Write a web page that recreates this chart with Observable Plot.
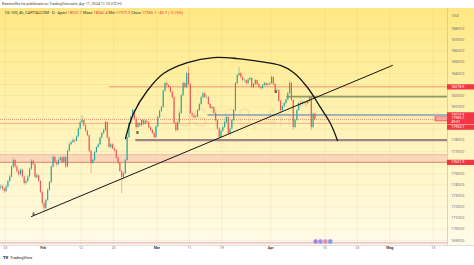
<!DOCTYPE html>
<html>
<head>
<meta charset="utf-8">
<script src="https://cdn.jsdelivr.net/npm/d3@7"></script>
<script src="https://cdn.jsdelivr.net/npm/@observablehq/plot@0.6"></script>
<style>
  body { margin: 0; background: #fff; }
  #wrap { position: relative; width: 474px; height: 265px; overflow: hidden; font-family: Roboto, "DejaVu Sans", sans-serif; }
  #chart { position: absolute; left: 0; top: 0; }
  .pub { position: absolute; left: 2px; top: 1.6px; font-size: 3.7px; line-height: 4px; color: #444; white-space: nowrap; }
  .legend { position: absolute; left: 5px; top: 11.4px; font-size: 3.9px; line-height: 4px; color: #333; white-space: nowrap; }
  .legend .v { color: #f23645; }
  .logo { position: absolute; left: 3px; top: 255px; font-size: 4px; line-height: 5px; color: #131722; white-space: nowrap; }
  .logo b { font-weight: 900; margin-right: 1px; }
</style>
</head>
<body>
<div id="wrap">
  <div id="chart"></div>
  <div class="pub">Kasimoflex ha pubblicato su TradingView.com, Apr 11, 2024 11:10 UTC+2</div>
  <div class="legend">US 100, 4h, CAPITALCOM · D · Apert <span class="v">18032.7</span> Mass <span class="v">18042.4</span> Min <span class="v">17979.9</span> Chius <span class="v">17985.1</span> <span class="v">−45.7 (−0.25%)</span></div>
  <div class="logo"><b>TV</b> TradingView</div>
</div>
<script>
// US 100 CFD candles, three per trading session, each [high, low, close].
// Each candle opens where the previous one closed.
const firstOpen = 17370;
const janBars = [
  [17400,17350,17380],[17395,17345,17360],[17370,17320,17340],
  [17395,17330,17380],[17440,17370,17430],[17490,17420,17470],
  [17570,17460,17560],[17640,17545,17618],[17625,17545,17560],
  [17575,17505,17520],[17535,17470,17490],[17545,17480,17530],
  [17540,17460,17470],[17480,17395,17411],[17445,17400,17430],
  [17485,17420,17470],[17550,17460,17540],[17625,17530,17610],
  [17620,17570,17580],[17590,17455,17465],[17500,17450,17480],
  [17490,17420,17430],[17440,17320,17330],[17345,17210,17230]
];
const febBars = [
  [17245,17160,17190],[17270,17175,17260],[17365,17250,17350],
  [17430,17340,17420],[17570,17410,17560],[17660,17550,17645],
  [17655,17590,17600],[17615,17560,17580],[17630,17570,17620],
  [17655,17610,17640],[17650,17590,17600],[17655,17590,17645],
  [17650,17545,17560],[17710,17550,17700],[17775,17690,17760],
  [17790,17750,17780],[17815,17770,17797],[17805,17770,17790],
  [17840,17785,17830],[17910,17820,17900],[17970,17890,17960],
  [18020,17950,17976],[17985,17920,17930],[17940,17870,17880],
  [17890,17830,17841],[17850,17690,17700],[17710,17500,17590],
  [17630,17580,17620],[17700,17610,17690],[17745,17680,17735],
  [17770,17725,17760],[17830,17750,17820],[17870,17810,17860],
  [17900,17850,17886],[17970,17875,17958],[17965,17810,17820],
  [17830,17725,17735],[17770,17720,17760],[17770,17710,17720],
  [17730,17690,17708],[17715,17630,17640],[17650,17580,17590],
  [17600,17510,17520],[17530,17320,17465],[17510,17450,17500],
  [17630,17490,17618],[17835,17610,17824],[17960,17815,17950],
  [18020,17940,18003],[18080,17995,18066],[18075,17980,17990],
  [18000,17900,17913],[17960,17905,17950],[17955,17915,17930],
  [17985,17920,17976],[17985,17930,17940],[17980,17935,17970],
  [17975,17945,17958],[17965,17900,17910],[17920,17875,17886],
  [17895,17850,17860],[17870,17810,17824],[17930,17815,17920]
];
const marBars = [
  [18015,17910,18003],[18070,17995,18060],[18105,18050,18093],
  [18250,18085,18240],[18320,18230,18308],[18315,18270,18290],
  [18295,18260,18272],[18280,18220,18230],[18240,18170,18183],
  [18190,17940,17949],[17960,17870,17886],[17970,17880,17960],
  [18050,17950,18039],[18210,18030,18200],[18320,18190,18308],
  [18315,18260,18272],[18410,18265,18398],[18460,18290,18300],
  [18310,18030,18039],[18050,18000,18020],[18035,17990,18003],
  [18025,17985,18010],[18075,18000,18066],[18130,18055,18120],
  [18190,18110,18180],[18235,18170,18218],[18225,18175,18183],
  [18200,18170,18183],[18190,18110,18120],[18130,18075,18084],
  [18105,18070,18093],[18100,18030,18040],[18050,17965,17976],
  [17985,17890,17900],[17915,17810,17824],[17890,17815,17880],
  [17925,17870,17913],[17970,17905,17960],[18015,17950,18003],
  [18010,17850,17859],[17910,17845,17900],[17985,17890,17976],
  [18075,17965,18066],[18320,18055,18308],[18390,18300,18380],
  [18455,18370,18398],[18405,18350,18360],[18370,18320,18335],
  [18350,18320,18335],[18340,18295,18310],[18350,18300,18340],
  [18365,18330,18353],[18360,18265,18272],[18310,18260,18300],
  [18345,18290,18335],[18340,18290,18300],[18310,18260,18272],
  [18280,18250,18263],[18300,18255,18290],[18320,18280,18308],
  [18315,18280,18290],[18310,18285,18300],[18320,18290,18310]
];
const aprBars = [
  [18375,18300,18362],[18370,18290,18300],[18310,18235,18245],
  [18260,18230,18246],[18250,18140,18150],[18160,18050,18066],
  [18110,18060,18100],[18140,18090,18129],[18170,18120,18160],
  [18230,18150,18219],[18330,18210,18308],[18320,18150,18156],
  [18165,17886,17913],[17990,17905,17980],[18075,17970,18066],
  [18140,18060,18129],[18145,18100,18120],[18150,18110,18140],
  [18150,18120,18138],[18145,18100,18129],[18160,18120,18150],
  [18195,18140,18183],[18190,17886,17913],[18045,17905,18032.7],
  [18042.4,17979.9,17985.1]
];

// Session index 0 = Jan 23; the series starts with the Jan 22 session.
const firstSession = -1;
const perSession = 3;

// Time axis: session index of each tick and its label
const sessionTicks  = [0, 7, 14, 20, 28, 34, 40, 49, 59, 65, 71, 79];
const sessionLabels = ["23", "Feb", "12", "20", "Mar", "11", "19", "Apr", "15", "23", "Mag", "13"];
const monthNames = ["Feb", "Mar", "Apr", "Mag"];

// Price axis ticks
const priceTicks = [16900, 17000, 17100, 17200, 17300, 17400, 17500, 17600, 17700, 17800,
                    17900, 18000, 18100, 18200, 18300, 18400, 18500, 18600, 18700, 18800];
const currency = "USD";

// Horizontal levels drawn on the chart and the session where each begins
const resistance = 18278.9, resistanceFrom = 19.2;
const upperBand = 18192, upperBandFrom = 52;
const pivot = 18026.8, pivotFrom = 37.4;
const minorLevel = 17950.7, minorLevelFrom = -1;
const support = 17800, supportFrom = 24.1;
const demandLow = 17601.9, demandHigh = 17670;
const floorLine = 16878;

// Rising trend line (session, price)
const trendSessions = [4.85, 71.48];
const trendPrices = [17115, 18471];

// Rounded top drawn over the range
const arcSessions = [22.2, 23.68, 26.26, 29.22, 33.65, 38.45, 42.87, 47.12, 50.81, 53.21, 55.8, 58.19, 60.04, 61.33];
const arcPrices = [17815, 18040, 18246, 18399, 18497, 18542, 18533, 18506, 18471, 18408, 18273, 18094, 17950, 17797];

// Point labels placed on the chart
const pointLabels = ["A", "B", "B"];
const pointSessions = [5.2, 24.4, 49.9];
const pointPrices = [17142, 17869, 18237];

// Upcoming-event markers along the time axis
const eventSessions = [57.3, 58.2, 59.1, 60.0];
const eventColors = ["#9b6fd8", "#8a7fe0", "#e27aa8", "#6f8ee0"];

// Price tags on the scale
const tagPrices = [18278.9, 18026.8, 17601.9];
const lastTag = 17985.1, lastCountdown = "49:01";
const lowerTag = 17950.7;

// Watermark
const watermark = "US100, 4h";
const watermarkSub = "US 100";

const bars = [...janBars, ...febBars, ...marBars, ...aprBars];
const candles = bars.map(([high, low, close], i) => ({
  t: firstSession + (i + 0.5) / perSession,
  open: i === 0 ? firstOpen : bars[i - 1][2],
  high, low, close
}));
const lastClose = bars[bars.length - 1][2];

const up = "#26a69a", down = "#ef5350";
const xDomain = [-0.87, 81.64];
const yDomain = [16855, 18982];
const xEnd = xDomain[1];
const past = xEnd + 6;
const fmt = d3.format(".1f");
const axisInk = "#6a6d78";
const tagFont = 3.6;
const lowerTagShift = 3.8;   // px the lower tag is pushed down to clear the last-price tag
const pxPerPoint = 237 / (yDomain[1] - yDomain[0]);

// scale labels that sit under a tag are not shown
const tagShown = [...tagPrices, lastTag, lowerTag - lowerTagShift / pxPerPoint];
const visibleTicks = priceTicks.filter(p => tagShown.every(t => Math.abs(t - p) * pxPerPoint > 4.2));

const trend = trendSessions.map((t, i) => ({t, p: trendPrices[i]}));
const arc = arcSessions.map((t, i) => ({t, p: arcPrices[i]}));
const points = pointLabels.map((label, i) => ({label, t: pointSessions[i], p: pointPrices[i]}));
const events = eventSessions.map((t, i) => ({t, color: eventColors[i]}));
const colorOf = d => d.close >= d.open ? up : down;

const chart = Plot.plot({
  width: 474,
  height: 265,
  marginLeft: 0,
  marginRight: 27,
  marginTop: 8,
  marginBottom: 20,
  x: {domain: xDomain, axis: null},
  y: {domain: yDomain, axis: null},
  style: {fontFamily: "Roboto, 'DejaVu Sans', sans-serif", fontSize: "4px", overflow: "hidden"},
  marks: [
    // faint grid
    Plot.ruleX(sessionTicks, {x: d => d, stroke: "#c8b870", strokeOpacity: 0.3, strokeWidth: 0.5}),
    Plot.ruleY(priceTicks, {y: d => d, x1: xDomain[0], x2: xEnd, stroke: "#c8b870", strokeOpacity: 0.3, strokeWidth: 0.5}),

    // watermark
    Plot.text([watermark], {frameAnchor: "middle", dx: 10, dy: -8, text: d => d, fontSize: 26, fill: "#8a7d40", fillOpacity: 0.09}),
    Plot.text([watermarkSub], {frameAnchor: "middle", dx: 8, dy: 17, text: d => d, fontSize: 11, fill: "#8a7d40", fillOpacity: 0.09}),

    // demand zone
    Plot.rect([demandLow], {x1: xDomain[0], x2: xEnd, y1: demandLow, y2: demandHigh, fill: "#f4b9b0", fillOpacity: 0.5}),
    Plot.ruleY([demandHigh], {x1: xDomain[0], x2: xEnd, stroke: "#eaa39a", strokeWidth: 0.5}),
    Plot.ruleY([demandLow], {x1: xDomain[0], x2: xEnd, stroke: "#de6f6a", strokeWidth: 0.9}),
    Plot.ruleY([floorLine], {x1: xDomain[0], x2: xEnd, stroke: "#e7a0c0", strokeWidth: 1}),

    // levels
    Plot.ruleY([resistance], {x1: resistanceFrom, x2: xEnd, stroke: "#f07a72", strokeWidth: 0.8}),
    Plot.ruleY([upperBand], {x1: upperBandFrom, x2: xEnd, stroke: "#8f9a6c", strokeWidth: 1.8}),
    Plot.ruleY([pivot], {x1: pivotFrom, x2: xEnd, stroke: "#8e99b8", strokeWidth: 1.5}),
    Plot.ruleY([minorLevel], {x1: minorLevelFrom, x2: xEnd, stroke: "#f3a07c", strokeWidth: 0.8}),
    Plot.ruleY([support], {x1: supportFrom, x2: xEnd, stroke: "#9e8484", strokeWidth: 2.2}),
    Plot.ruleY([lastClose], {x1: xDomain[0], x2: xEnd, stroke: down, strokeWidth: 0.6, strokeDasharray: "1,1"}),

    // candles
    Plot.ruleX(candles, {x: "t", y1: "low", y2: "high", stroke: colorOf, strokeWidth: 0.45, clip: true}),
    Plot.ruleX(candles, {x: "t", y1: "open", y2: "close", stroke: colorOf, strokeWidth: 1.1, clip: true}),

    // drawings
    Plot.line(trend, {x: "t", y: "p", stroke: "#151515", strokeWidth: 1}),
    Plot.line(arc, {x: "t", y: "p", curve: "catmull-rom", stroke: "#151515", strokeWidth: 1.3}),
    Plot.text(points, {x: "t", y: "p", text: "label", fontSize: 3.6, fill: "#222", fontWeight: "bold"}),

    // event markers
    Plot.dot(events, {x: "t", frameAnchor: "bottom", dy: -4, r: 2.5, fill: "color", fillOpacity: 0.85, stroke: "#f4f0ff", strokeWidth: 0.4}),

    // axis frame
    Plot.ruleX([xEnd], {x: d => d, stroke: "#b9b9b9", strokeWidth: 0.6}),
    Plot.ruleY([yDomain[0]], {y: d => d, x1: xDomain[0], x2: past, stroke: "#c9c9c9", strokeWidth: 0.6}),

    // price axis labels
    Plot.text(visibleTicks, {x: xEnd, y: d => d, text: d => fmt(d), dx: 3.8, textAnchor: "start", fontSize: 3.6, fill: axisInk}),
    Plot.text([currency], {x: xEnd, frameAnchor: "top", dx: 4.5, dy: 6, text: d => d, textAnchor: "start", fontSize: 3.6, fill: axisInk}),

    // time axis labels
    Plot.text(sessionTicks.filter((d, i) => !monthNames.includes(sessionLabels[i])),
      {x: d => d, frameAnchor: "bottom", dy: 3.6, text: d => sessionLabels[sessionTicks.indexOf(d)], fontSize: 3.6, fill: axisInk}),
    Plot.text(sessionTicks.filter((d, i) => monthNames.includes(sessionLabels[i])),
      {x: d => d, frameAnchor: "bottom", dy: 3.6, text: d => sessionLabels[sessionTicks.indexOf(d)], fontSize: 3.6, fill: "#3a3d48", fontWeight: "bold"}),

    // price tags
    Plot.ruleY(tagPrices, {y: d => d, x1: xEnd, x2: past, stroke: "#f23645", strokeWidth: 5.2}),
    Plot.text(tagPrices, {x: xEnd, y: d => d, text: d => fmt(d), dx: 3.8, textAnchor: "start", fontSize: tagFont, fill: "white"}),
    Plot.ruleY([lowerTag], {y: d => d, x1: xEnd, x2: past, dy: lowerTagShift, stroke: "#f23645", strokeWidth: 5.2}),
    Plot.text([lowerTag], {x: xEnd, y: d => d, text: d => fmt(d), dx: 3.8, dy: lowerTagShift, textAnchor: "start", fontSize: tagFont, fill: "white"}),
    Plot.ruleY([lastTag], {y: d => d, x1: xEnd, x2: past, stroke: "#f23645", strokeWidth: 8.6}),
    Plot.text([lastTag], {x: xEnd, y: d => d, text: d => fmt(d), dx: 3.8, dy: -1.5, textAnchor: "start", fontSize: tagFont, fill: "white"}),
    Plot.text([lastTag], {x: xEnd, y: d => d, text: () => lastCountdown, dx: 3.8, dy: 2.2, textAnchor: "start", fontSize: tagFont, fill: "white"}),
    Plot.ruleY([lastTag], {y: d => d, x1: xEnd - 2.3, x2: xEnd, dy: -0.8, stroke: "#f2787c", strokeWidth: 5.2}),
    Plot.text([lastTag], {x: xEnd, y: d => d, text: () => "US100", dx: -1, dy: -0.8, textAnchor: "end", fontSize: 3.3, fill: "white"})
  ]
});
chart.style.background = "linear-gradient(to bottom, #fff 0px, #fff 8px, #ffe882 8px, #fff2b0 110px, #fffbe8 245px, #fff 245px)";
document.getElementById("chart").append(chart);
</script>
</body>
</html>
